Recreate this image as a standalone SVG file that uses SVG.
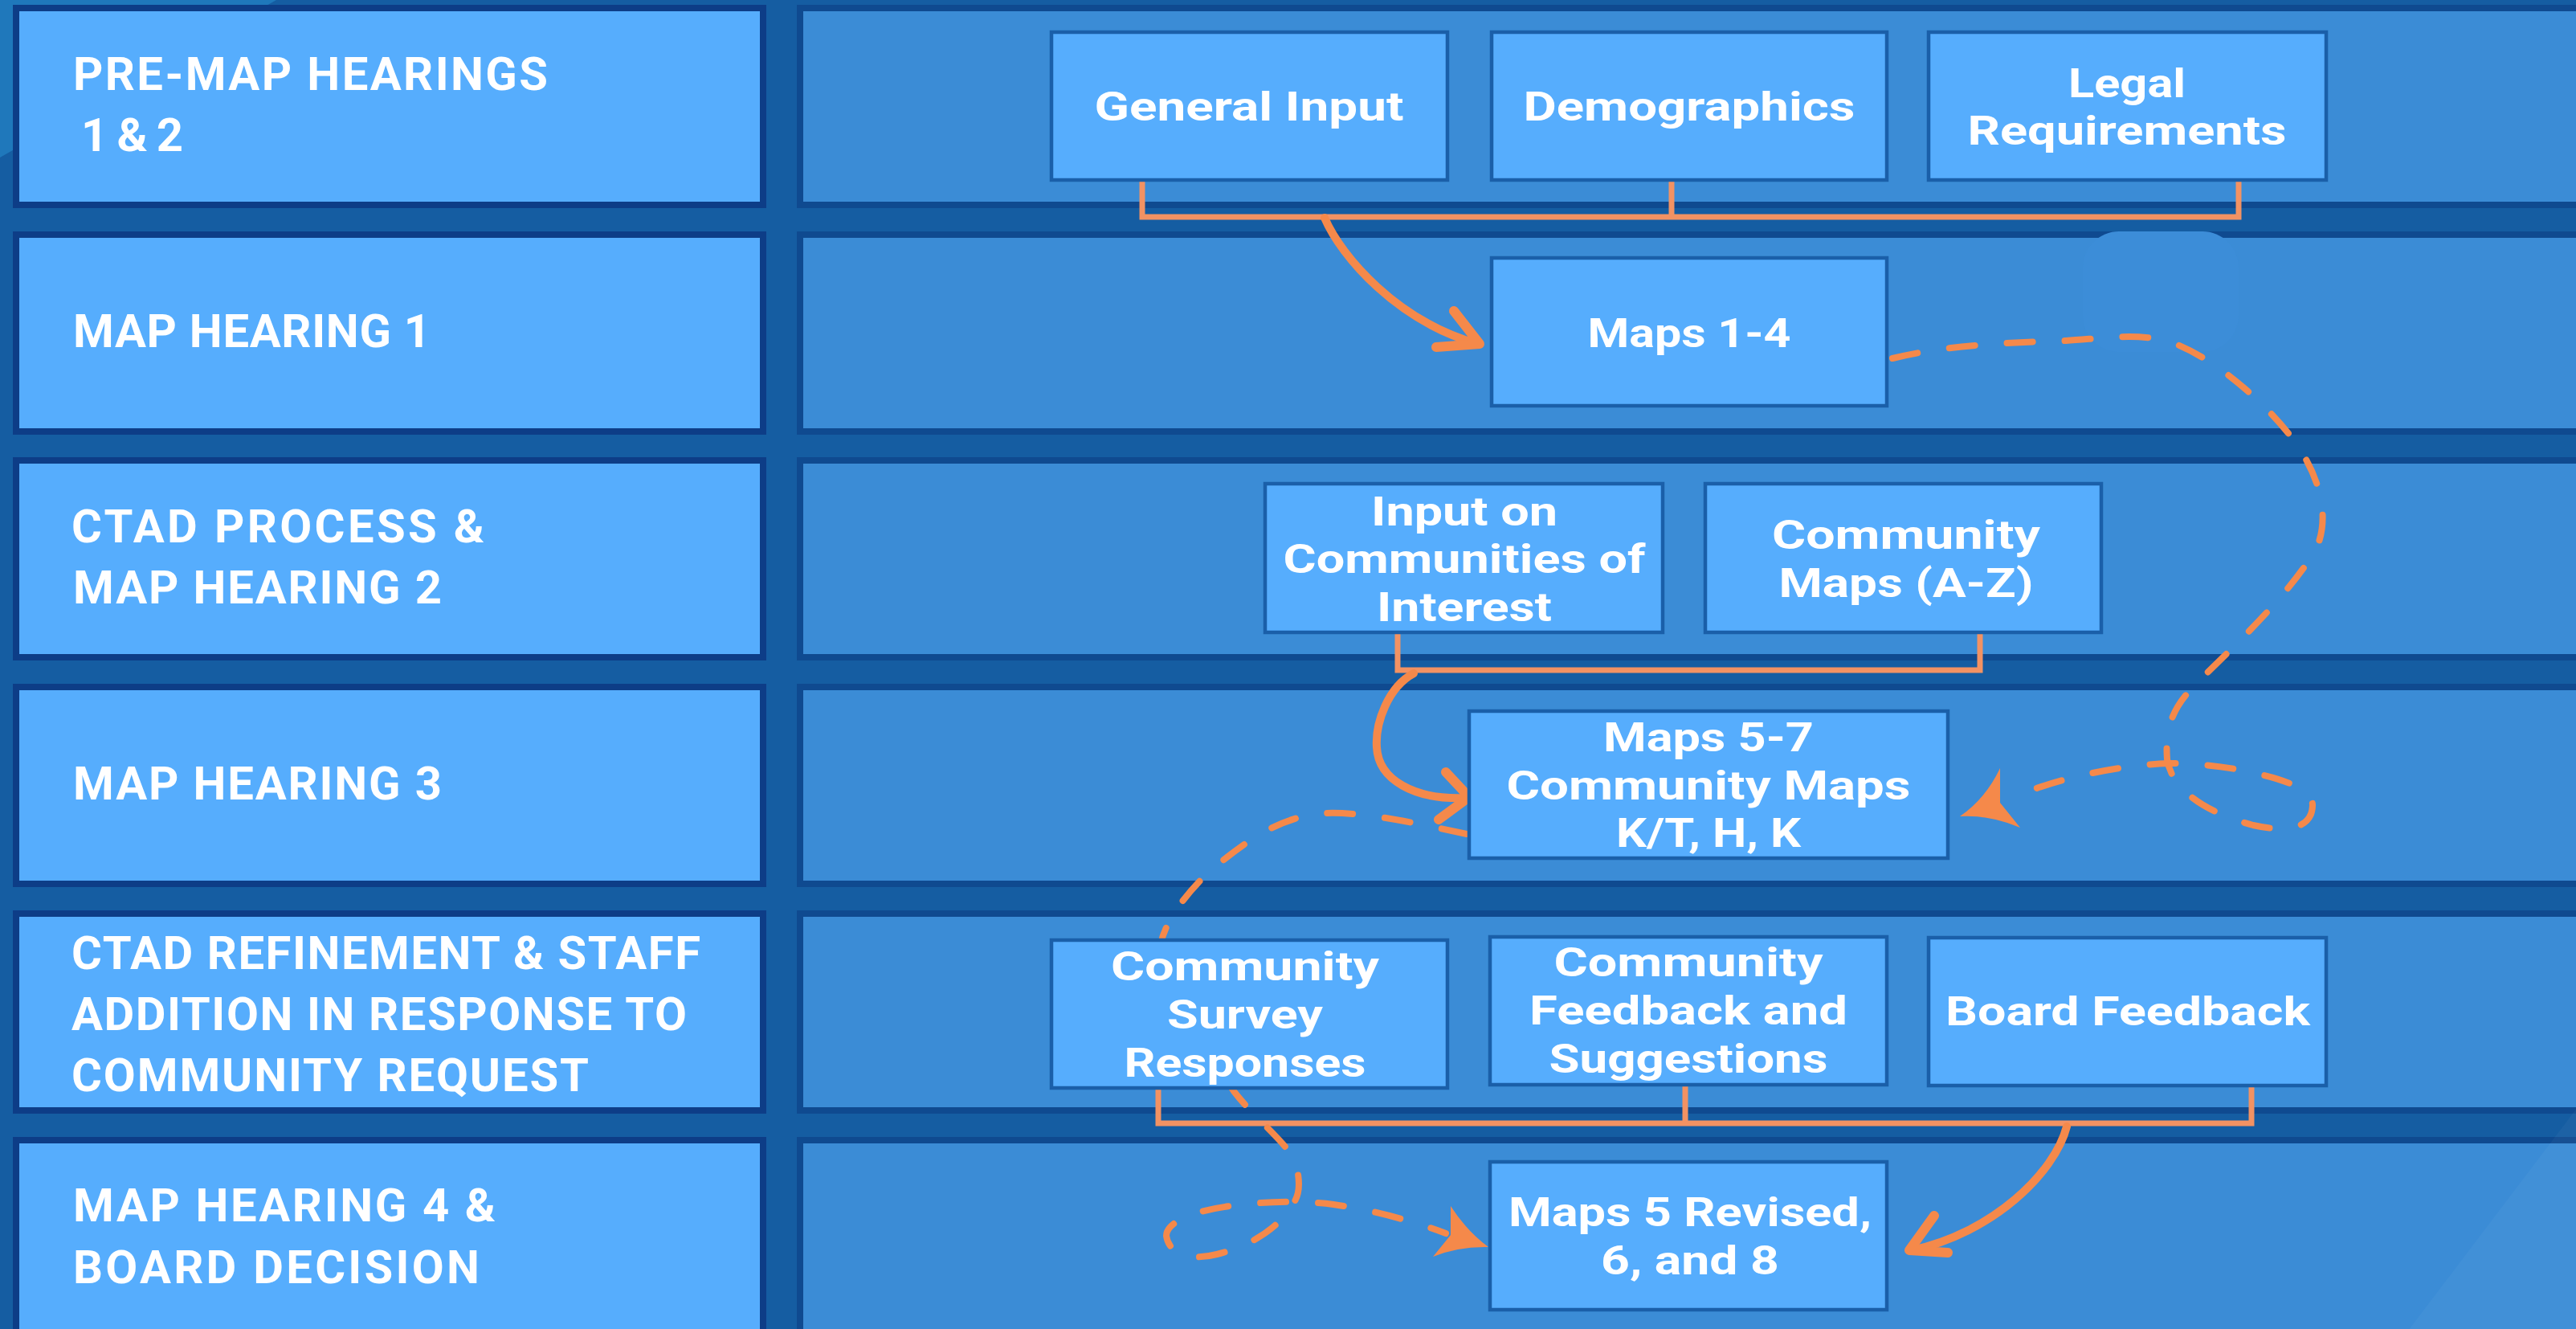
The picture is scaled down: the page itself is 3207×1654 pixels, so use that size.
<svg xmlns="http://www.w3.org/2000/svg" width="3207" height="1654" viewBox="0 0 3207 1654">
<style>
.bg{fill:#155da2}
.lb{fill:#56adfd;stroke:#0d3d87;stroke-width:8}
.pn{fill:#3b8cd6;stroke:#0f4a90;stroke-width:8}
.nd{fill:#56adfd;stroke:#1a5fa9;stroke-width:4.5}
.lt{font-family:Roboto,"Open Sans",sans-serif;font-weight:700;font-size:58px;fill:#fff}
.nt{font-family:Roboto,"Liberation Sans",sans-serif;font-weight:700;font-size:50px;fill:#fff;text-anchor:middle}
.br{fill:none;stroke:#f29263;stroke-width:7}
.sa{fill:none;stroke:#f5894a;stroke-width:10;stroke-linecap:round;stroke-linejoin:round}
.sh{fill:none;stroke:#f5894a;stroke-width:12;stroke-linecap:round;stroke-linejoin:round}
.da{fill:none;stroke:#f5894a;stroke-width:8;stroke-linecap:round;stroke-dasharray:32 40}
.ah{fill:#f5894a}
</style>
<rect class="bg" x="0" y="0" width="3207" height="1654"/>
<polygon points="0,0 344,0 0,196" fill="#1f78bb"/>

<g id="labels">
<g id="label-1"><rect class="lb" x="20" y="10" width="930" height="245"/>
<text class="lt" x="91" y="112" textLength="591">PRE-MAP HEARINGS</text>
<text class="lt" x="101" y="188" textLength="127">1 &amp; 2</text></g>
<g id="label-2"><rect class="lb" x="20" y="292" width="930" height="245"/>
<text class="lt" x="91" y="432" textLength="445">MAP HEARING 1</text></g>
<g id="label-3"><rect class="lb" x="20" y="573" width="930" height="245"/>
<text class="lt" x="89" y="675" textLength="514">CTAD PROCESS &amp;</text>
<text class="lt" x="91" y="751" textLength="459">MAP HEARING 2</text></g>
<g id="label-4"><rect class="lb" x="20" y="855" width="930" height="245"/>
<text class="lt" x="91" y="995" textLength="459">MAP HEARING 3</text></g>
<g id="label-5"><rect class="lb" x="20" y="1137" width="930" height="245"/>
<text class="lt" x="89" y="1206" textLength="783">CTAD REFINEMENT &amp; STAFF</text>
<text class="lt" x="89" y="1282" textLength="766">ADDITION IN RESPONSE TO</text>
<text class="lt" x="89" y="1358" textLength="644">COMMUNITY REQUEST</text></g>
<g id="label-6"><rect class="lb" x="20" y="1419" width="930" height="260"/>
<text class="lt" x="91" y="1520" textLength="526">MAP HEARING 4 &amp;</text>
<text class="lt" x="91" y="1597" textLength="506">BOARD DECISION</text></g>
</g>

<g id="panels">
<rect class="pn" x="996" y="10" width="2230" height="245"/>
<rect class="pn" x="996" y="292" width="2230" height="245"/>
<rect class="pn" x="996" y="573" width="2230" height="245"/>
<rect class="pn" x="996" y="855" width="2230" height="245"/>
<rect class="pn" x="996" y="1137" width="2230" height="245"/>
<rect class="pn" x="996" y="1419" width="2230" height="260"/>
<rect x="2593" y="288" width="194" height="150" rx="45" fill="#3c8dd8"/>
<polygon points="3215,1370 3215,1660 2995,1660" fill="#ffffff" fill-opacity="0.035"/>
</g>

<g id="connectors">
<path class="br" d="M1422,226 V270 H2787 V226 M2081,226 V270"/>
<path class="br" d="M1740,789 V834 H2465 V789"/>
<path class="br" d="M1442,1356 V1398 H2803 V1352 M2098,1352 V1398"/>
<path class="sa" d="M1649,271 C1670,320 1740,400 1840,428"/>
<path class="sh" d="M1810,387 L1842,428 L1788,432"/>
<path class="sa" d="M1760,838 C1728,855 1712,900 1714,930 C1716,970 1760,996 1826,993"/>
<path class="sh" d="M1800,961 L1829,992 L1791,1020"/>
<path class="sa" d="M2573,1402 C2558,1460 2480,1535 2380,1556"/>
<path class="sh" d="M2408,1513 L2377,1556 L2425,1559"/>
<path class="da" d="M2356,446 C2420,430 2500,426 2572,424 C2620,421 2660,414 2700,425 C2760,445 2830,510 2862,557 C2900,615 2900,670 2870,704 C2830,760 2770,815 2735,850 C2705,880 2695,905 2698,945 C2705,990 2760,1015 2805,1027 C2850,1037 2878,1030 2879,1003 C2880,985 2850,972 2815,964 C2780,955 2740,950 2700,950 C2640,952 2560,968 2500,995"/>
<path class="ah" d="M2440,1016 Q2472,994 2490,956 L2490,999 L2515,1030 Q2478,1014 2440,1016 Z"/>
<path class="da" d="M1826,1038 C1770,1026 1700,1010 1650,1012 C1590,1015 1540,1055 1500,1090 C1470,1120 1450,1150 1445,1175 C1470,1250 1510,1320 1536,1358 C1560,1390 1600,1420 1612,1445 C1620,1470 1618,1490 1608,1500 C1595,1525 1560,1550 1515,1561 C1480,1570 1455,1560 1452,1538 C1452,1520 1490,1505 1540,1500 C1580,1495 1620,1494 1660,1499 C1710,1506 1760,1520 1800,1535"/>
<path class="ah" d="M1853,1552 Q1826,1532 1806,1501 L1806,1537 L1784,1564 Q1816,1551 1853,1552 Z"/>
</g>

<g id="node-general-input"><rect class="nd" x="1309" y="40" width="493" height="184"/>
<text class="nt" x="1555" y="150" textLength="385" lengthAdjust="spacingAndGlyphs">General Input</text></g>
<g id="node-demographics"><rect class="nd" x="1857" y="40" width="492" height="184"/>
<text class="nt" x="2103" y="150" textLength="413" lengthAdjust="spacingAndGlyphs">Demographics</text></g>
<g id="node-legal"><rect class="nd" x="2401" y="40" width="495" height="184"/>
<text class="nt" x="2648" y="121" textLength="146" lengthAdjust="spacingAndGlyphs">Legal</text>
<text class="nt" x="2648" y="180" textLength="397" lengthAdjust="spacingAndGlyphs">Requirements</text></g>
<g id="node-maps-1-4"><rect class="nd" x="1857" y="321" width="492" height="184"/>
<text class="nt" x="2103" y="432" textLength="253" lengthAdjust="spacingAndGlyphs">Maps 1-4</text></g>
<g id="node-input-coi"><rect class="nd" x="1575" y="602" width="495" height="185"/>
<text class="nt" x="1823" y="654" textLength="232" lengthAdjust="spacingAndGlyphs">Input on</text>
<text class="nt" x="1823" y="713" textLength="451" lengthAdjust="spacingAndGlyphs">Communities of</text>
<text class="nt" x="1823" y="773" textLength="218" lengthAdjust="spacingAndGlyphs">Interest</text></g>
<g id="node-community-maps"><rect class="nd" x="2123" y="602" width="493" height="185"/>
<text class="nt" x="2373" y="683" textLength="334" lengthAdjust="spacingAndGlyphs">Community</text>
<text class="nt" x="2373" y="743" textLength="317" lengthAdjust="spacingAndGlyphs">Maps (A-Z)</text></g>
<g id="node-maps-5-7"><rect class="nd" x="1829" y="885" width="596" height="183"/>
<text class="nt" x="2127" y="935" textLength="262" lengthAdjust="spacingAndGlyphs">Maps 5-7</text>
<text class="nt" x="2127" y="995" textLength="503" lengthAdjust="spacingAndGlyphs">Community Maps</text>
<text class="nt" x="2127" y="1054" textLength="230" lengthAdjust="spacingAndGlyphs">K/T, H, K</text></g>
<g id="node-survey"><rect class="nd" x="1309" y="1170" width="493" height="184"/>
<text class="nt" x="1550" y="1220" textLength="334" lengthAdjust="spacingAndGlyphs">Community</text>
<text class="nt" x="1550" y="1280" textLength="194" lengthAdjust="spacingAndGlyphs">Survey</text>
<text class="nt" x="1550" y="1340" textLength="301" lengthAdjust="spacingAndGlyphs">Responses</text></g>
<g id="node-feedback"><rect class="nd" x="1855" y="1166" width="494" height="184"/>
<text class="nt" x="2102" y="1215" textLength="335" lengthAdjust="spacingAndGlyphs">Community</text>
<text class="nt" x="2102" y="1275" textLength="396" lengthAdjust="spacingAndGlyphs">Feedback and</text>
<text class="nt" x="2102" y="1335" textLength="347" lengthAdjust="spacingAndGlyphs">Suggestions</text></g>
<g id="node-board"><rect class="nd" x="2401" y="1167" width="495" height="184"/>
<text class="nt" x="2649" y="1276" textLength="454" lengthAdjust="spacingAndGlyphs">Board Feedback</text></g>
<g id="node-maps-revised"><rect class="nd" x="1855" y="1446" width="494" height="184"/>
<text class="nt" x="2104" y="1526" textLength="452" lengthAdjust="spacingAndGlyphs">Maps 5 Revised,</text>
<text class="nt" x="2104" y="1586" textLength="222" lengthAdjust="spacingAndGlyphs">6, and 8</text></g>
</svg>
